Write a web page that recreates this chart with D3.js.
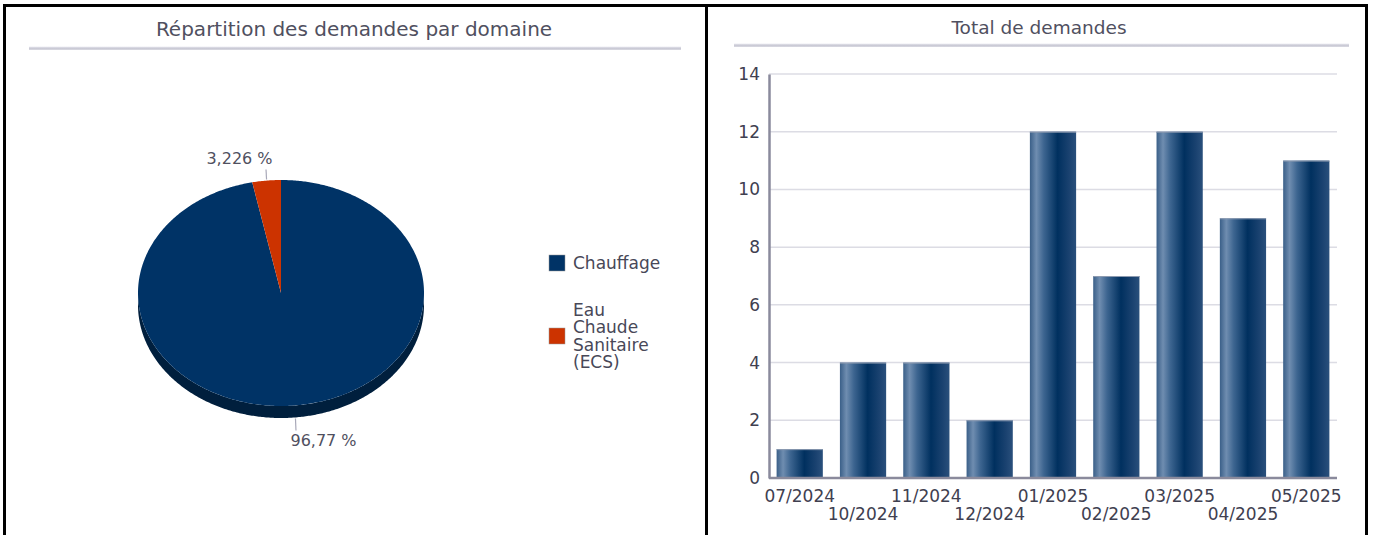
<!DOCTYPE html>
<html><head><meta charset="utf-8">
<script src="https://cdn.jsdelivr.net/npm/d3@7"></script>
<style>
html,body{margin:0;padding:0;background:#fff;}
svg{display:block;font-family:"DejaVu Sans",sans-serif;}
</style></head>
<body>
<svg id="c" width="1373" height="535"></svg>
<script>
// ---- data ----
const pieTitle = "Répartition des demandes par domaine";
const pieCategories = ["Chauffage", "Eau Chaude Sanitaire (ECS)"];
const pieLegendLines = [["Chauffage"], ["Eau", "Chaude", "Sanitaire", "(ECS)"]];
const pieValues = [30, 1];
const pieLabels = ["96,77 %", "3,226 %"];
const pieColors = ["#003366", "#cc3300"];
const pieSideColors = ["#001f3d", "#7a1f00"];

const barTitle = "Total de demandes";
const months = ["07/2024","10/2024","11/2024","12/2024","01/2025","02/2025","03/2025","04/2025","05/2025"];
const counts = [1, 4, 4, 2, 12, 7, 12, 9, 11];
const yTicks = [0, 2, 4, 6, 8, 10, 12, 14];

const svg = d3.select("#c");

// frame
svg.append("path").attr("d","M4.5,535 V5.5 H1366.5 V535 M706.5,5.5 V535")
  .attr("fill","none").attr("stroke","#000").attr("stroke-width",3);

// gradients
const defs = svg.append("defs");
const ug = defs.append("linearGradient").attr("id","ul").attr("x1",0).attr("y1",0).attr("x2",0).attr("y2",1);
ug.append("stop").attr("offset","0%").attr("stop-color","#eeeef4");
ug.append("stop").attr("offset","50%").attr("stop-color","#c8c8d4");
ug.append("stop").attr("offset","100%").attr("stop-color","#dadae2");
const bg = defs.append("linearGradient").attr("id","bar").attr("x1",0).attr("y1",0).attr("x2",1).attr("y2",0);
[["0%","#3a5f88"],["14%","#6f8db0"],["30%","#3d6590"],["60%","#00305f"],["85%","#1a4270"],["100%","#2a507c"]]
  .forEach(([o,c])=>bg.append("stop").attr("offset",o).attr("stop-color",c));

function titleBlock(cx, ty, x0, x1, uy, text, fs){
  svg.append("text").attr("x",cx).attr("y",ty).attr("text-anchor","middle")
    .attr("font-size",fs).attr("fill","#505060").text(text);
  svg.append("rect").attr("x",x0).attr("y",uy).attr("width",x1-x0).attr("height",3.5)
    .attr("fill","url(#ul)");
}
titleBlock(354, 36, 29, 681, 46.5, pieTitle, 20);
titleBlock(1039, 34, 734, 1349, 43.5, barTitle, 18.5);

// ---- pie ----
const cx = 281, cy = 293, rx = 143, ry = 113, depth = 12;
const pie = d3.pie().sort(null).value(d=>d)(pieValues);
const ex = a => cx + rx*Math.sin(a), ey = a => cy - ry*Math.cos(a);
function arcPts(a0, a1){
  const n = Math.max(2, Math.ceil((a1-a0)/0.01));
  return d3.range(n+1).map(i=>{const a=a0+(a1-a0)*i/n; return [ex(a), ey(a)];});
}
const pg = svg.append("g");
// side walls (front half only: angles PI/2..3PI/2)
pie.forEach((p,i)=>{
  const a0 = Math.max(p.startAngle, Math.PI/2), a1 = Math.min(p.endAngle, 3*Math.PI/2);
  if (a1 <= a0) return;
  const top = arcPts(a0,a1);
  const bot = top.slice().reverse().map(([x,y])=>[x,y+depth]);
  pg.append("path").attr("d","M"+top.concat(bot).map(p=>p.join(",")).join("L")+"Z")
    .attr("fill",pieSideColors[i]);
});
pie.forEach((p,i)=>{
  const pts = arcPts(p.startAngle, p.endAngle);
  pg.append("path").attr("d","M"+cx+","+cy+"L"+pts.map(p=>p.join(",")).join("L")+"Z")
    .attr("fill",pieColors[i]);
});
// labels
pie.forEach((p,i)=>{
  const m = (p.startAngle+p.endAngle)/2;
  const x = ex(m); let y = ey(m);
  const down = Math.cos(m) < 0;
  if (down) y += depth;
  const y2 = down ? y+13 : y-11;
  pg.append("line").attr("x1",x).attr("y1",down?y+1:y-1).attr("x2",x+(Math.sin(m)>0?0.5:-0.5)).attr("y2",y2)
    .attr("stroke","#a8a8b8").attr("stroke-width",1.2);
  const right = Math.sin(m) > 0;
  pg.append("text").attr("x", right ? x-5 : x+6).attr("y", down ? y2+16 : y2-6)
    .attr("text-anchor", right ? "start" : "end")
    .attr("font-size",16).attr("fill","#505060").text(pieLabels[i]);
});
// legend
const lg = svg.append("g");
const legendTops = [255, 328];
pieCategories.forEach((c,i)=>{
  lg.append("rect").attr("x",549).attr("y",legendTops[i]).attr("width",16).attr("height",16)
    .attr("fill",pieColors[i]).attr("stroke","#999").attr("stroke-width",0.5);
  const lines = pieLegendLines[i];
  const lh = 17.5;
  const startY = legendTops[i] + 8 + 6 - (lines.length-1)*lh/2;
  const t = lg.append("text").attr("font-size",17).attr("fill","#484858");
  lines.forEach((ln,j)=>t.append("tspan").attr("x",573).attr("y",startY+j*lh).text(ln));
});

// ---- bars ----
const x = d3.scaleBand().domain(months).range([769, 1337]).paddingInner(0.27).paddingOuter(0.12);
const y = d3.scaleLinear().domain([0,14]).range([478, 74]);
const bgG = svg.append("g");
bgG.selectAll("line.grid").data(yTicks.filter(t=>t>0)).join("line")
  .attr("x1",769).attr("x2",1337).attr("y1",d=>y(d)).attr("y2",d=>y(d))
  .attr("stroke","#dcdce4").attr("stroke-width",1.5);
bgG.selectAll("rect.bar").data(counts).join("rect")
  .attr("x",(d,i)=>x(months[i])).attr("width",x.bandwidth())
  .attr("y",d=>y(d)).attr("height",d=>y(0)-y(d))
  .attr("fill","url(#bar)");
bgG.selectAll("line.cap").data(counts).join("line")
  .attr("x1",(d,i)=>x(months[i])).attr("x2",(d,i)=>x(months[i])+x.bandwidth())
  .attr("y1",d=>y(d)+0.5).attr("y2",d=>y(d)+0.5).attr("stroke","#8c9ab0").attr("stroke-width",1);

const yAxis = svg.append("g").attr("transform","translate(769,0)")
  .call(d3.axisLeft(y).tickValues(yTicks).tickSize(0).tickPadding(9));
yAxis.select(".domain").attr("stroke","#8a8a9c").attr("stroke-width",2.5);
yAxis.selectAll("text").attr("font-size",17).attr("fill","#404050").attr("font-family","DejaVu Sans");

const xAxis = svg.append("g").attr("transform","translate(0,478)")
  .call(d3.axisBottom(x).tickSize(0).tickPadding(6));
xAxis.select(".domain").attr("d","M769,0H1337").attr("stroke","#8a8a9c").attr("stroke-width",2.5);
xAxis.selectAll("text").attr("font-size",17).attr("fill","#404050").attr("font-family","DejaVu Sans")
  .attr("dy",(d,i)=> i%2 ? "2.1em" : "1.04em");
</script>
</body></html>
